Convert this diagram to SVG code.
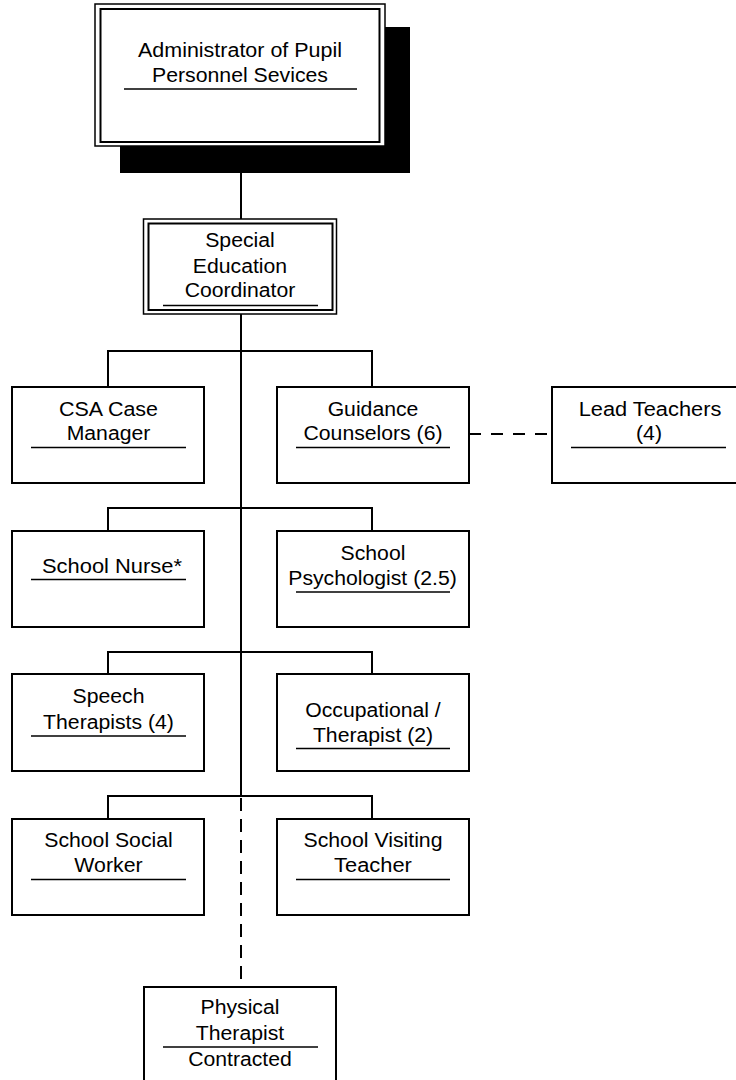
<svg xmlns="http://www.w3.org/2000/svg" width="736" height="1080" viewBox="0 0 736 1080">
<style>
.box{fill:#fff;stroke:#000;stroke-width:2}
.ob{fill:#fff;stroke:#000;stroke-width:1.5}
.ib{fill:none;stroke:#000;stroke-width:2}
.ul{stroke:#000;stroke-width:1.5;fill:none}
.ln{stroke:#000;stroke-width:2;fill:none}
.dl{stroke:#000;stroke-width:2;fill:none;stroke-dasharray:13 8}
text{font-family:"Liberation Sans",Arial,sans-serif;font-size:20px;fill:#000;text-anchor:middle}
</style>
<g id="connectors">
<line class="ln" x1="241" y1="173" x2="241" y2="219"/>
<line class="ln" x1="241" y1="314" x2="241" y2="796"/>
<line class="dl" x1="241" y1="798" x2="241" y2="987"/>
<polyline class="ln" points="108,387 108,351 372,351 372,387"/>
<polyline class="ln" points="108,531 108,508 372,508 372,531"/>
<polyline class="ln" points="108,674 108,652 372,652 372,674"/>
<polyline class="ln" points="108,819 108,796 372,796 372,819"/>
<line class="dl" x1="469" y1="434" x2="552" y2="434" style="stroke-dasharray:12 10"/>
</g>
<g id="administrator">
<rect x="120" y="27" width="290" height="146" fill="#000"/>
<rect class="ob" x="95" y="4" width="290" height="142"/>
<rect class="ib" x="100.5" y="9" width="279" height="133"/>
<text x="240" y="57" textLength="204" lengthAdjust="spacingAndGlyphs">Administrator of Pupil</text>
<text x="240" y="82" textLength="176" lengthAdjust="spacingAndGlyphs">Personnel Sevices</text>
<line class="ul" x1="124" y1="89" x2="357" y2="89"/>
</g>
<g id="special-education">
<rect class="ob" x="143.5" y="219" width="193" height="95"/>
<rect class="ib" x="148.5" y="223.5" width="184" height="86.5"/>
<text x="240" y="246.5" textLength="69.7" lengthAdjust="spacingAndGlyphs">Special</text>
<text x="240" y="272.5" textLength="94.3" lengthAdjust="spacingAndGlyphs">Education</text>
<text x="240" y="297" textLength="110.7" lengthAdjust="spacingAndGlyphs">Coordinator</text>
<line class="ul" x1="163" y1="305.5" x2="318" y2="305.5"/>
</g>
<g id="csa">
<rect class="box" x="12" y="387" width="192" height="96"/>
<text x="108.5" y="416" textLength="99" lengthAdjust="spacingAndGlyphs">CSA Case</text>
<text x="108.5" y="440" textLength="83.7" lengthAdjust="spacingAndGlyphs">Manager</text>
<line class="ul" x1="31" y1="447.5" x2="186" y2="447.5"/>
</g>
<g id="guidance">
<rect class="box" x="277" y="387" width="192" height="96"/>
<text x="373" y="416" textLength="90.7" lengthAdjust="spacingAndGlyphs">Guidance</text>
<text x="373" y="440" textLength="139" lengthAdjust="spacingAndGlyphs">Counselors (6)</text>
<line class="ul" x1="296" y1="447.5" x2="450" y2="447.5"/>
</g>
<g id="lead-teachers">
<rect class="box" x="552" y="387" width="192" height="96"/>
<text x="650" y="416" textLength="142.6" lengthAdjust="spacingAndGlyphs">Lead Teachers</text>
<text x="649" y="440" textLength="25.9" lengthAdjust="spacingAndGlyphs">(4)</text>
<line class="ul" x1="571" y1="447.5" x2="726" y2="447.5"/>
</g>
<g id="nurse">
<rect class="box" x="12" y="531" width="192" height="96"/>
<text x="112" y="572.5" textLength="140" lengthAdjust="spacingAndGlyphs">School Nurse*</text>
<line class="ul" x1="31" y1="579.5" x2="186" y2="579.5"/>
</g>
<g id="psychologist">
<rect class="box" x="277" y="531" width="192" height="96"/>
<text x="373" y="560" textLength="64.8" lengthAdjust="spacingAndGlyphs">School</text>
<text x="372.5" y="585" textLength="168.5" lengthAdjust="spacingAndGlyphs">Psychologist (2.5)</text>
<line class="ul" x1="296" y1="592" x2="450" y2="592"/>
</g>
<g id="speech">
<rect class="box" x="12" y="674" width="192" height="97"/>
<text x="108.5" y="703" textLength="71.9" lengthAdjust="spacingAndGlyphs">Speech</text>
<text x="108.5" y="729" textLength="130.8" lengthAdjust="spacingAndGlyphs">Therapists (4)</text>
<line class="ul" x1="31" y1="736" x2="186" y2="736"/>
</g>
<g id="occupational">
<rect class="box" x="277" y="674" width="192" height="97"/>
<text x="373" y="716.5" textLength="135.5" lengthAdjust="spacingAndGlyphs">Occupational /</text>
<text x="373" y="741.5" textLength="120.2" lengthAdjust="spacingAndGlyphs">Therapist (2)</text>
<line class="ul" x1="296" y1="748.5" x2="450" y2="748.5"/>
</g>
<g id="social-worker">
<rect class="box" x="12" y="819" width="192" height="96"/>
<text x="108.5" y="847" textLength="128.4" lengthAdjust="spacingAndGlyphs">School Social</text>
<text x="108.5" y="872" textLength="68.3" lengthAdjust="spacingAndGlyphs">Worker</text>
<line class="ul" x1="31" y1="879.5" x2="186" y2="879.5"/>
</g>
<g id="visiting-teacher">
<rect class="box" x="277" y="819" width="192" height="96"/>
<text x="373" y="847" textLength="139" lengthAdjust="spacingAndGlyphs">School Visiting</text>
<text x="373" y="872" textLength="77.8" lengthAdjust="spacingAndGlyphs">Teacher</text>
<line class="ul" x1="296" y1="879.5" x2="450" y2="879.5"/>
</g>
<g id="physical-therapist">
<rect class="box" x="144" y="987" width="192" height="96"/>
<text x="240" y="1014" textLength="78.9" lengthAdjust="spacingAndGlyphs">Physical</text>
<text x="240" y="1040" textLength="88.4" lengthAdjust="spacingAndGlyphs">Therapist</text>
<line class="ul" x1="163" y1="1047" x2="318" y2="1047"/>
<text x="240" y="1066" textLength="103.7" lengthAdjust="spacingAndGlyphs">Contracted</text>
</g>
</svg>
